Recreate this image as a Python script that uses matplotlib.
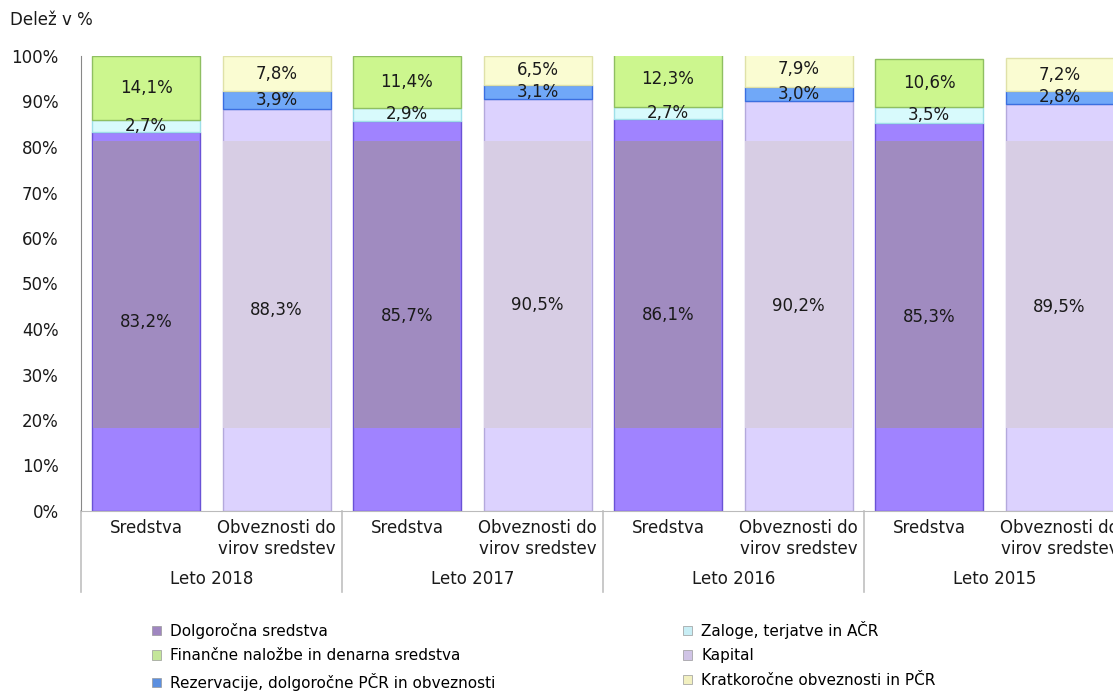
import matplotlib.pyplot as plt
from matplotlib.patches import Patch
import matplotlib.transforms as mtransforms

plt.rcParams['font.family'] = ['DejaVu Sans']

years = ['Leto 2018', 'Leto 2017', 'Leto 2016', 'Leto 2015']
bar_labels = ['Sredstva', 'Obveznosti do\nvirov sredstev']

# Sredstva (assets) per year
dolgorocna = [83.2, 85.7, 86.1, 85.3]
zaloge = [2.7, 2.9, 2.7, 3.5]
financne = [14.1, 11.4, 12.3, 10.6]
# Obveznosti do virov sredstev per year
kapital = [88.3, 90.5, 90.2, 89.5]
rezervacije = [3.9, 3.1, 3.0, 2.8]
kratkorocne = [7.8, 6.5, 7.9, 7.2]

names = ['Dolgoročna sredstva', 'Zaloge, terjatve in AČR',
         'Finančne naložbe in denarna sredstva', 'Kapital',
         'Rezervacije, dolgoročne PČR in obveznosti',
         'Kratkoročne obveznosti in PČR']

# fill, edge, shaded (middle band) colour
styles = {
    'Dolgoročna sredstva': ('#a083ff', '#6a52d6', '#a08bc0'),
    'Zaloge, terjatve in AČR': ('#d8fafc', '#9edfe8', None),
    'Finančne naložbe in denarna sredstva': ('#ccf68e', '#8fbf62', None),
    'Kapital': ('#dcd2fe', '#b4a9dc', '#d7cde4'),
    'Rezervacije, dolgoročne PČR in obveznosti': ('#70a8f8', '#3b6fe0', None),
    'Kratkoročne obveznosti in PČR': ('#fafcd2', '#dfe1a8', None),
}

legend_colors = {
    'Dolgoročna sredstva': '#9f86c0',
    'Zaloge, terjatve in AČR': '#c8eef5',
    'Finančne naložbe in denarna sredstva': '#c4e69a',
    'Kapital': '#d0c4e6',
    'Rezervacije, dolgoročne PČR in obveznosti': '#5b8fe0',
    'Kratkoročne obveznosti in PČR': '#f2f0c0',
}

band_lo, band_hi = 18.2, 81.3

fig = plt.figure(figsize=(11.13, 6.92), dpi=100)
ax = fig.add_axes([80.75 / 1113, 1 - 511 / 692, 1044 / 1113, 455 / 692])

width = 108 / 130.5

def fmt(v):
    return f'{v:.1f}'.replace('.', ',') + '%'

for i in range(len(years)):
    groups = [
        (2 * i, [(names[0], dolgorocna[i]), (names[1], zaloge[i]), (names[2], financne[i])]),
        (2 * i + 1, [(names[3], kapital[i]), (names[4], rezervacije[i]), (names[5], kratkorocne[i])]),
    ]
    for x, segs in groups:
        bottom = 0
        for name, val in segs:
            fc, ec, shade = styles[name]
            ax.bar(x, val, width, bottom=bottom, color=fc, edgecolor=ec, linewidth=1, zorder=2)
            if shade:
                ax.bar(x, min(val, band_hi) - band_lo, width - 0.012, bottom=band_lo,
                       color=shade, linewidth=0, zorder=3)
            ax.text(x, bottom + val / 2, fmt(val), ha='center', va='center',
                    fontsize=12, color='#1a1a1a', zorder=5)
            bottom += val

ax.set_xlim(-0.5, 7.5)
ax.set_ylim(0, 100)
ax.set_yticks(range(0, 101, 10))
ax.set_yticklabels([f'{t}%' for t in range(0, 101, 10)], fontsize=12, color='#1a1a1a')
ax.tick_params(axis='y', length=0, pad=16)
ax.set_xticks([])
for s in ['top', 'right']:
    ax.spines[s].set_visible(False)
ax.spines['left'].set_color('#888888')
ax.spines['bottom'].set_color('#bbbbbb')

trans = mtransforms.blended_transform_factory(ax.transData, ax.transAxes)
for j in range(8):
    ax.text(j, -0.017, bar_labels[j % 2], transform=trans, ha='center', va='top',
            fontsize=12, color='#1a1a1a', linespacing=1.25)
for i, yr in enumerate(years):
    ax.text(2 * i + 0.5, -0.149, yr, transform=trans, ha='center', va='center',
            fontsize=12, color='#1a1a1a')
for k in range(5):
    ax.plot([2 * k - 0.5, 2 * k - 0.5], [0, -0.178], transform=trans, color='#c0c0c0',
            linewidth=1.2, clip_on=False)

fig.text(10 / 1113, 1 - 20 / 692, 'Delež v %', fontsize=12, color='#1a1a1a',
         ha='left', va='center')

handles = [Patch(facecolor=legend_colors[n], edgecolor='#999999', linewidth=0.5, label=n)
           for n in [names[0], names[2], names[4], names[1], names[3], names[5]]]
fig.legend(handles=handles, loc='upper left', bbox_to_anchor=(152 / 1113, 1 - 621 / 692),
           ncol=2, frameon=False, fontsize=11, handlelength=0.6, handleheight=0.6,
           handletextpad=0.6, columnspacing=12.25, labelspacing=0.62, borderpad=0,
           borderaxespad=0)

fig.savefig('out.png', dpi=100)
